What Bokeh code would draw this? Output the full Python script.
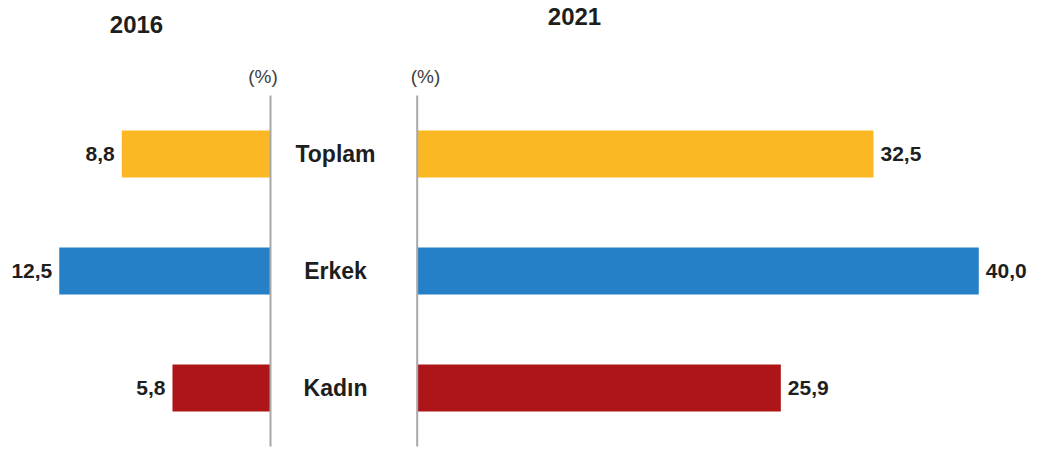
from bokeh.plotting import figure
from bokeh.models import ColumnDataSource, Range1d
from bokeh.core.properties import value
from bokeh.embed import file_html
from bokeh.resources import INLINE

# Data
categories = ["Toplam", "Erkek", "Kadın"]
values_2016 = [8.8, 12.5, 5.8]
values_2021 = [32.5, 40.0, 25.9]
bar_colors = ["#FBB824", "#2680C7", "#AE1518"]
years = ["2016", "2021"]
unit_label = "(%)"

W, H = 1045, 450

# vertical positions: one unit per category, top to bottom
ypos = [len(categories) - 0.5 - i for i in range(len(categories))]

def fmt(v):
    return f"{v:.1f}".replace(".", ",")

src16 = ColumnDataSource(dict(y=ypos, v=values_2016, c=bar_colors,
                              t=[fmt(v) for v in values_2016]))
src21 = ColumnDataSource(dict(y=ypos, v=values_2021, c=bar_colors,
                              t=[fmt(v) for v in values_2021]))
srccat = ColumnDataSource(dict(y=ypos, t=categories))

p = figure(width=W, height=H, output_backend="svg", toolbar_location=None,
           x_range=Range1d(0, W), y_range=Range1d(-0.034, 3.812),
           x_axis_location=None, y_axis_location=None,
           min_border=0, min_border_left=0, min_border_right=0,
           min_border_top=0, min_border_bottom=0)
p.grid.visible = False
p.outline_line_color = None
p.background_fill_color = "white"

# 2016 panel grows to the left from its baseline, 2021 panel to the right
p.extra_x_ranges = {
    "left": Range1d(start=270 / 16.9, end=-(W - 270) / 16.9),
    "right": Range1d(start=-416.7 / 14.04, end=(W - 416.7) / 14.04),
}

bar_h = 0.4
sans = value("Liberation Sans")

for name, src, align, off in [("left", src16, "right", -7), ("right", src21, "left", 7)]:
    p.hbar(y="y", left=0, right="v", height=bar_h, fill_color="c", line_color=None,
           source=src, x_range_name=name)
    p.segment(x0=0, y0=0, x1=0, y1=len(categories), line_color="#A8A8A8",
              line_width=2, x_range_name=name)
    p.text(x="v", y="y", text="t", source=src, x_range_name=name,
           text_font=sans, text_font_style="bold", text_font_size="21px",
           text_color="#1E1E1E", text_align=align, text_baseline="middle",
           x_offset=off)

# category names between the panels
p.text(x=335, y="y", text="t", source=srccat, text_font=sans,
       text_font_style="bold", text_font_size="23px", text_color="#1E1E1E",
       text_align="center", text_baseline="middle")

# year headings
p.text(x=[136, 574], y=[3.61, 3.675], text=years,
       text_font=sans, text_font_style="bold",
       text_font_size="24px", text_color="#1E1E1E",
       text_align="center", text_baseline="middle")

# unit markers above each baseline
p.text(x=[262.5, 425], y=[3.162, 3.162], text=[unit_label, unit_label],
       text_font=sans, text_font_size="19px",
       text_color="#404040", text_align="center", text_baseline="middle")

open("out.html", "w").write(file_html(p, INLINE))
